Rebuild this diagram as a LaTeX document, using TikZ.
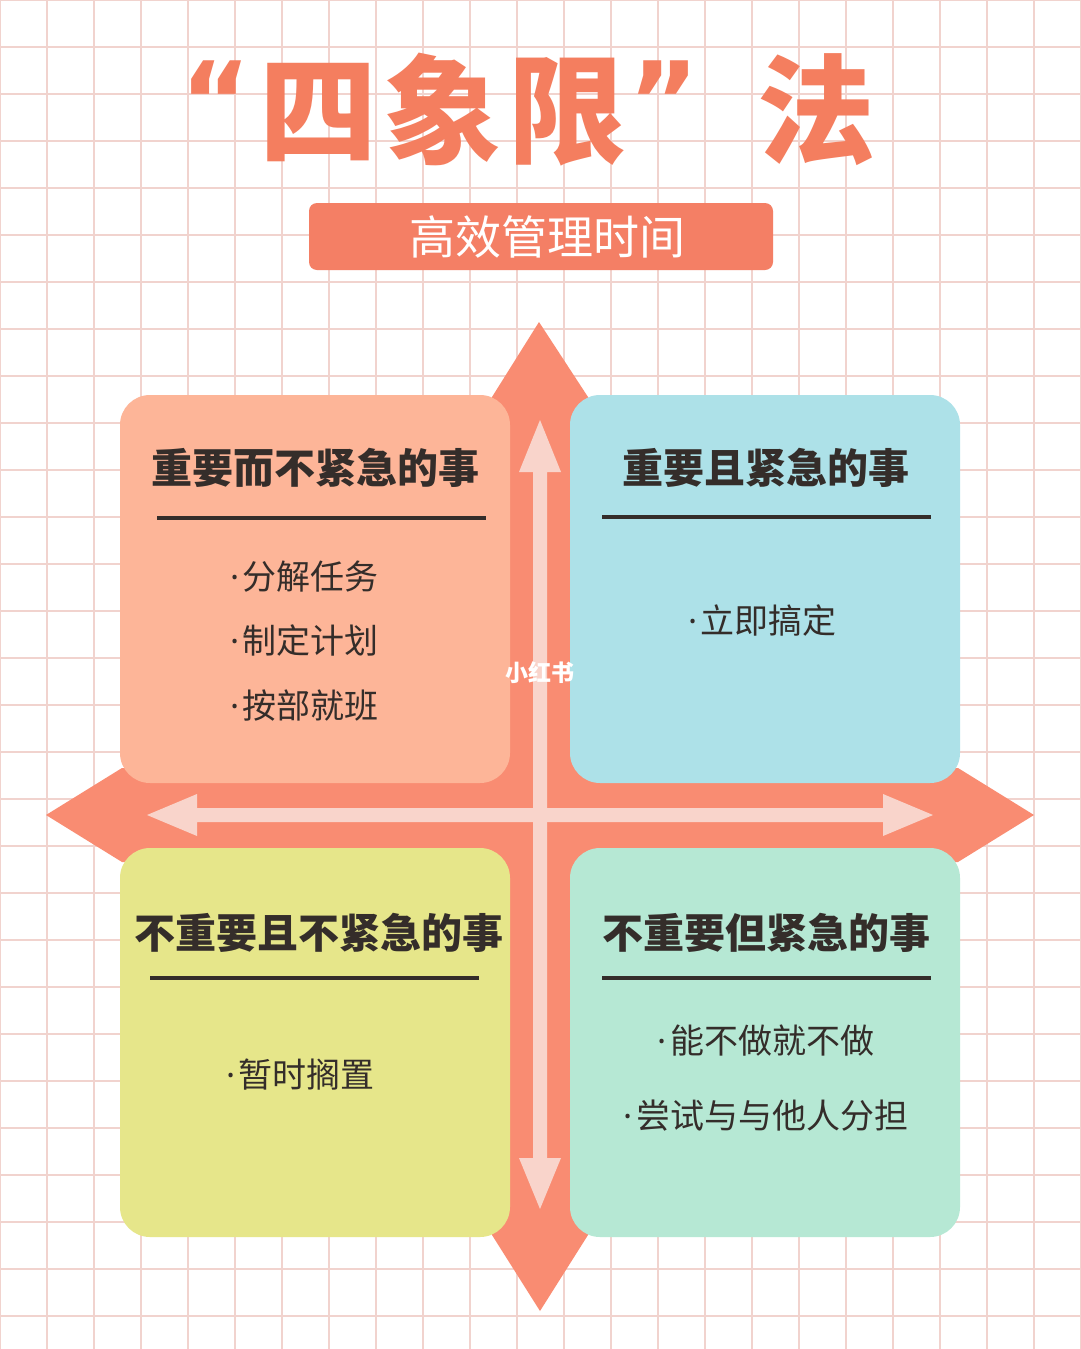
\documentclass[tikz,border=0pt]{standalone}
\usepackage{fontspec}
\setmainfont{Noto Sans CJK SC}
\newfontfamily\latinf{Noto Sans}
\newfontfamily\quotef{DejaVu Sans}
\definecolor{gridc}{HTML}{F1D3CE}
\definecolor{salmon}{HTML}{F98C72}
\definecolor{titlec}{HTML}{F47E5F}
\definecolor{bannerc}{HTML}{F47F65}
\definecolor{lightarr}{HTML}{F9D4CB}
\definecolor{qtl}{HTML}{FDB598}
\definecolor{qtr}{HTML}{ADE1E8}
\definecolor{qbl}{HTML}{E6E68A}
\definecolor{qbr}{HTML}{B6E8D4}
\definecolor{ink}{HTML}{342D2A}
\newcommand{\bdot}{{\latinf ·}\hspace{3pt}}
\tikzset{
  gridline/.style={draw=gridc, line width=1.4pt},
  quad/.style={rounded corners=30pt},
  head/.style={font=\fontsize{41}{44}\selectfont\bfseries, text=ink, inner sep=0pt},
  item/.style={font=\fontsize{34}{36}\selectfont, text=ink, inner sep=0pt},
  rule/.style={draw=ink, line width=3.5pt},
  titlet/.style={font=\fontsize{118}{120}\selectfont\bfseries, text=titlec, inner sep=0pt},
  quotet/.style={font=\fontsize{108}{110}\selectfont\quotef\bfseries, text=titlec, inner sep=0pt}
}
\begin{document}
\begin{tikzpicture}[x=1pt,y=-1pt]
\useasboundingbox (0,0) rectangle (1080,1349);
\fill[white] (0,0) rectangle (1080,1349);
% grid
\foreach \i in {0,...,23} \draw[gridline] (\i*47,0) -- (\i*47,1349);
\foreach \j in {0,...,28} \draw[gridline] (0,\j*47) -- (1080,\j*47);
% title
\node[quotet] (q1) at (216,100) {“};
\node[titlet] (t1) at (443,110) {四\hspace{7pt}象\hspace{7pt}限};
\node[quotet] (q2) at (664,100) {”};
\node[titlet] (t2) at (816,110) {法};
% banner
\fill[bannerc, rounded corners=8pt] (309,203) rectangle (773,270);
\node[font=\fontsize{46}{50}\selectfont, text=white, inner sep=0pt] (sub) at (547,237) {高效管理时间};
% big cross
\fill[salmon] (539,322) -- (588,397) -- (588,1235) -- (540,1311) -- (492,1235) -- (492,397) -- cycle;
\fill[salmon] (46,815) -- (122,768) -- (958,768) -- (1034,815) -- (958,862) -- (122,862) -- cycle;
% quadrants
\fill[qtl, quad] (120,395) rectangle (510,783);
\fill[qtr, quad] (570,395) rectangle (960,783);
\fill[qbl, quad] (120,848) rectangle (510,1237);
\fill[qbr, quad] (570,848) rectangle (960,1237);
% light arrows
\fill[lightarr] (540,420) -- (561,472) -- (547,472) -- (547,1158) -- (561,1158) -- (540,1209) -- (519,1158) -- (533,1158) -- (533,472) -- (519,472) -- cycle;
\fill[lightarr] (147,815) -- (197,794) -- (197,808) -- (883,808) -- (883,794) -- (933,815) -- (883,836) -- (883,822) -- (197,822) -- (197,836) -- cycle;
% headers
\node[head] (h1) at (315,468) {重要而不紧急的事};
\node[head] (h2) at (766,468) {重要且紧急的事};
\node[head] (h3) at (319,933) {不重要且不紧急的事};
\node[head] (h4) at (766,933) {不重要但紧急的事};
\coordinate (r1a) at (157,518); \coordinate (r1b) at (486,518);
\coordinate (r2a) at (602,517); \coordinate (r2b) at (931,517);
\coordinate (r3a) at (150,978); \coordinate (r3b) at (479,978);
\coordinate (r4a) at (602,978); \coordinate (r4b) at (931,978);
\draw[rule] (r1a) -- (r1b);
\draw[rule] (r2a) -- (r2b);
\draw[rule] (r3a) -- (r3b);
\draw[rule] (r4a) -- (r4b);
% items
\node[item, anchor=west] (i1) at (230,577) {\bdot 分解任务};
\node[item, anchor=west] (i2) at (230,641) {\bdot 制定计划};
\node[item, anchor=west] (i3) at (230,706) {\bdot 按部就班};
\node[item, anchor=west] (i4) at (688,621) {\bdot 立即搞定};
\node[item, anchor=west] (i5) at (226,1075) {\bdot 暂时搁置};
\node[item] (i6) at (766,1041) {\bdot 能不做就不做};
\node[item] (i7) at (766,1116) {\bdot 尝试与与他人分担};
% watermark
\node[font=\fontsize{23}{25}\selectfont\bfseries, text=white, inner sep=0pt] (wm) at (540,673) {小红书};
\end{tikzpicture}
\end{document}
